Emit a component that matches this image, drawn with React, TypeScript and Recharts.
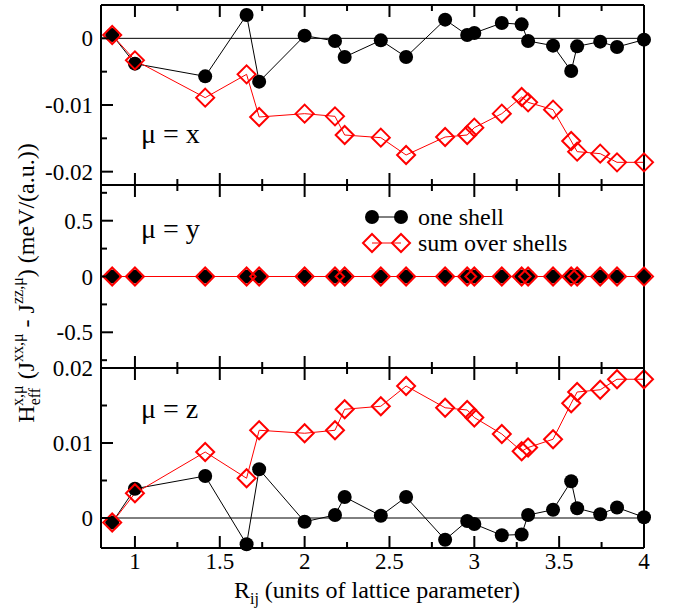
import React from "react";
import { LineChart, Line, XAxis, YAxis, ReferenceLine } from "recharts";

// neighbour distances (bcc shells), units of lattice parameter
const rij = [0.866, 1, 1.414, 1.658, 1.732, 2, 2.179, 2.236, 2.449, 2.598, 2.828, 2.958, 3, 3.162, 3.279, 3.317, 3.464, 3.571, 3.606, 3.742, 3.841, 4];

// mu = x
const oneShellX = [0.0005, -0.0038, -0.0057, 0.0035, -0.0065, 0.0004, -0.0004, -0.0028, -0.0003, -0.0028, 0.0028, 0.0005, 0.0008, 0.0023, 0.0021, -0.0004, -0.0011, -0.0049, -0.0012, -0.0005, -0.0013, -0.0002];
const sumShellsX = [0.0005, -0.0033, -0.0089, -0.0054, -0.0118, -0.0113, -0.0117, -0.0145, -0.0149, -0.0175, -0.0148, -0.0145, -0.0134, -0.0113, -0.0088, -0.0096, -0.0107, -0.0154, -0.017, -0.0173, -0.0186, -0.0186];

// mu = y
const oneShellY = [0, 0, 0, 0, 0, 0, 0, 0, 0, 0, 0, 0, 0, 0, 0, 0, 0, 0, 0, 0, 0, 0];
const sumShellsY = [0, 0, 0, 0, 0, 0, 0, 0, 0, 0, 0, 0, 0, 0, 0, 0, 0, 0, 0, 0, 0, 0];

// mu = z
const oneShellZ = [-0.0006, 0.0039, 0.0056, -0.0035, 0.0065, -0.0005, 0.0004, 0.0028, 0.0003, 0.0028, -0.0029, -0.0004, -0.0008, -0.0023, -0.0022, 0.0004, 0.0011, 0.0049, 0.0013, 0.0005, 0.0014, 0.0001];
const sumShellsZ = [-0.0006, 0.0033, 0.0088, 0.0053, 0.0117, 0.0113, 0.0117, 0.0145, 0.0149, 0.0176, 0.0147, 0.0144, 0.0134, 0.0112, 0.0089, 0.0094, 0.0105, 0.0153, 0.0168, 0.0171, 0.0185, 0.0185];

const xTicks = [1, 1.25, 1.5, 1.75, 2, 2.25, 2.5, 2.75, 3, 3.25, 3.5, 3.75, 4];
const xMajor = [1, 1.5, 2, 2.5, 3, 3.5, 4];

const yTicksX = [-0.02, -0.015, -0.01, -0.005, 0];
const yMajorX = [-0.02, -0.01, 0];
const yTicksY = [-0.75, -0.5, -0.25, 0, 0.25, 0.5, 0.75];
const yMajorY = [-0.5, 0, 0.5];
const yTicksZ = [0, 0.005, 0.01, 0.015, 0.02];
const yMajorZ = [0, 0.01, 0.02];

const FONT = "Liberation Serif";
const RED = "#ff0000";
const axisStyle = { stroke: "#000", strokeWidth: 2 };

type Side = "left" | "right" | "top" | "bottom";

function makeTick(side: Side, major: number[], label: boolean) {
  return (props: any) => {
    const { x, y, payload } = props;
    const v = payload.value;
    const big = major.some((m) => Math.abs(m - v) < 1e-9);
    const len = big ? 12 : 6;
    let l = { x1: x, y1: y, x2: x, y2: y };
    if (side === "left") l.x2 = x + len;
    if (side === "right") l.x2 = x - len;
    if (side === "top") l.y2 = y + len;
    if (side === "bottom") l.y2 = y - len;
    return (
      <g>
        <line {...l} stroke="#000" strokeWidth={2} />
        {label && big && side === "left" && (
          <text x={x - 8} y={y + 8} textAnchor="end" fontSize={23} fontFamily={FONT} fill="#000">
            {String(v)}
          </text>
        )}
        {label && big && side === "bottom" && (
          <text x={x} y={y + 21} textAnchor="middle" fontSize={23} fontFamily={FONT} fill="#000">
            {String(v)}
          </text>
        )}
      </g>
    );
  };
}

const circleDot = (p: any) => <circle key={`c${p.index}`} cx={p.cx} cy={p.cy} r={7} fill="#000" />;
const diamondDot = (p: any) => (
  <path
    key={`d${p.index}`}
    d={`M${p.cx},${p.cy - 9}L${p.cx + 9},${p.cy}L${p.cx},${p.cy + 9}L${p.cx - 9},${p.cy}Z`}
    fill="none"
    stroke={RED}
    strokeWidth={2}
  />
);

type PanelProps = {
  top: number;
  height: number;
  topH: number;
  botH: number;
  one: number[];
  sum: number[];
  yDomain: [number, number];
  yTicks: number[];
  yMajor: number[];
  showX: boolean;
};

function Panel({ top, height, topH, botH, one, sum, yDomain, yTicks, yMajor, showX }: PanelProps) {
  const data = rij.map((r, i) => ({ r, one: one[i], sum: sum[i] }));
  return (
    <div style={{ position: "absolute", left: 0, top }}>
      <LineChart width={680} height={height} data={data} margin={{ top: 0, right: 0, bottom: 0, left: 0 }}>
        <XAxis xAxisId="b" type="number" dataKey="r" domain={[0.8, 4]} ticks={xTicks} interval={0} orientation="bottom" height={botH} tickSize={0} tickMargin={0} axisLine={axisStyle} tickLine={false} tick={makeTick("bottom", xMajor, showX)} />
        <XAxis xAxisId="t" type="number" dataKey="r" domain={[0.8, 4]} ticks={xTicks} interval={0} orientation="top" height={topH} tickSize={0} tickMargin={0} axisLine={axisStyle} tickLine={false} tick={makeTick("top", xMajor, false)} />
        <YAxis yAxisId="l" type="number" domain={yDomain} ticks={yTicks} interval={0} orientation="left" width={101} tickSize={0} tickMargin={0} axisLine={axisStyle} tickLine={false} tick={makeTick("left", yMajor, true)} />
        <YAxis yAxisId="r" type="number" domain={yDomain} ticks={yTicks} interval={0} orientation="right" width={36} tickSize={0} tickMargin={0} axisLine={axisStyle} tickLine={false} tick={makeTick("right", yMajor, false)} />
        <ReferenceLine xAxisId="b" yAxisId="l" y={0} stroke="#000" strokeWidth={1} />
        <Line xAxisId="b" yAxisId="l" dataKey="one" stroke="#000" strokeWidth={1} dot={circleDot} isAnimationActive={false} />
        <Line xAxisId="b" yAxisId="l" dataKey="sum" stroke={RED} strokeWidth={1} dot={diamondDot} isAnimationActive={false} />
      </LineChart>
    </div>
  );
}

export default function App() {
  return (
    <div style={{ position: "absolute", left: 0, top: 0, width: 680, height: 614, background: "#fff", fontFamily: FONT }}>
      <Panel top={0} height={192} topH={5} botH={7} one={oneShellX} sum={sumShellsX} yDomain={[-0.022, 0.005]} yTicks={yTicksX} yMajor={yMajorX} showX={false} />
      <Panel top={178} height={197} topH={7} botH={7} one={oneShellY} sum={sumShellsY} yDomain={[-0.82, 0.82]} yTicks={yTicksY} yMajor={yMajorY} showX={false} />
      <Panel top={348} height={266} topH={20} botH={66} one={oneShellZ} sum={sumShellsZ} yDomain={[-0.004, 0.02]} yTicks={yTicksZ} yMajor={yMajorZ} showX={true} />
      <svg width={680} height={614} style={{ position: "absolute", left: 0, top: 0, pointerEvents: "none" }} fontFamily={FONT}>
        <text x={141} y={143} fontSize={28}>μ = x</text>
        <text x={141} y={238} fontSize={28}>μ = y</text>
        <text x={141} y={418} fontSize={28}>μ = z</text>

        <line x1={372} y1={217} x2={401} y2={217} stroke="#000" strokeWidth={1} />
        <circle cx={372} cy={217} r={7} fill="#000" />
        <circle cx={401} cy={217} r={7} fill="#000" />
        <text x={418} y={225} fontSize={24}>one shell</text>

        <line x1={372} y1={243} x2={401} y2={243} stroke={RED} strokeWidth={1} />
        <path d="M372,234L381,243L372,252L363,243Z" fill="none" stroke={RED} strokeWidth={2} />
        <path d="M401,234L410,243L401,252L392,243Z" fill="none" stroke={RED} strokeWidth={2} />
        <text x={418} y={251} fontSize={24}>sum over shells</text>

        <text x={377} y={598} textAnchor="middle" fontSize={24}>
          <tspan>R</tspan>
          <tspan fontSize={16} dy={6}>ij</tspan>
          <tspan dy={-6}>{" (units of lattice parameter)"}</tspan>
        </text>

        <text transform="translate(34,283) rotate(-90)" textAnchor="middle" fontSize={24}>
          <tspan>H</tspan>
          <tspan fontSize={16} dy={6}>eff</tspan>
          <tspan fontSize={16} dx={-18} dy={-17}>x,μ</tspan>
          <tspan dy={11}>{" (J"}</tspan>
          <tspan fontSize={16} dy={-11}>xx,μ</tspan>
          <tspan dy={11}>{" - J"}</tspan>
          <tspan fontSize={16} dy={-11}>zz,μ</tspan>
          <tspan dy={11}>{") (meV/(a.u.))"}</tspan>
        </text>
      </svg>
    </div>
  );
}
